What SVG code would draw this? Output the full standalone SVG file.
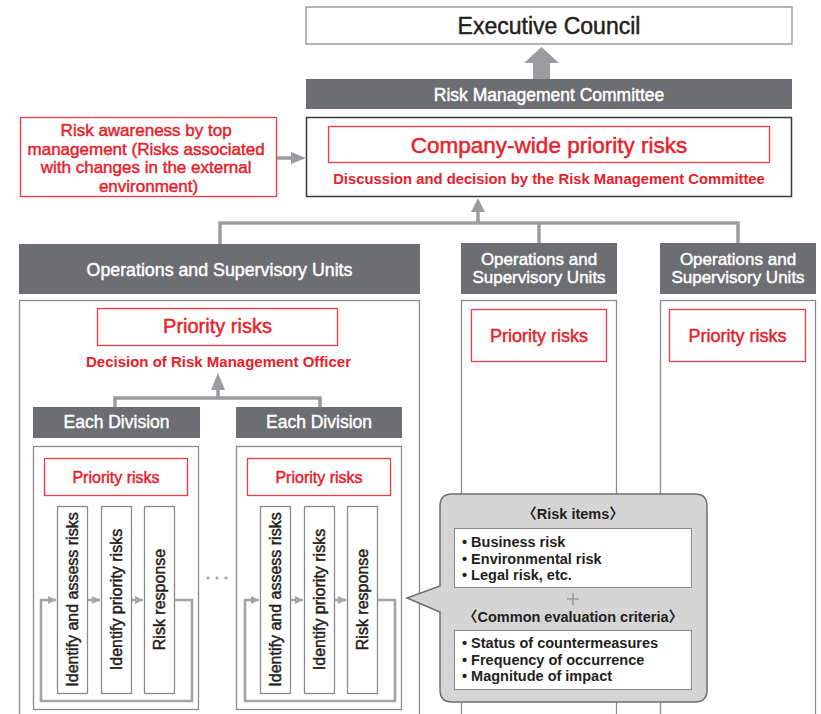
<svg xmlns="http://www.w3.org/2000/svg" width="821" height="714" viewBox="0 0 821 714">
<defs>
<style>
text{font-family:"Liberation Sans",Arial,"Noto Sans CJK JP",sans-serif;}
.red{fill:#e8202a;}
.wt{fill:#ffffff;}
.dk{fill:#231f20;}
.med{stroke-width:0.45;stroke-linejoin:round;}
.red.med{stroke:#e8202a;}
.wt.med{stroke:#ffffff;}
.dk.med{stroke:#231f20;}
.bar{fill:#6d6e71;}
.redbox{fill:#fff;stroke:#ec3a44;stroke-width:1.3;}
.gbox{fill:#fff;stroke:#8a8a8c;stroke-width:1.3;}
.conn{fill:none;stroke:#9b9c9f;stroke-width:3.5;}
.loop{fill:none;stroke:#a3a4a6;stroke-width:2.6;}
.head{fill:#9b9c9f;}
.mid{text-anchor:middle;}
.b{font-weight:bold;}
</style>
<marker id="ah" viewBox="0 0 8 8" refX="8" refY="4" markerWidth="8" markerHeight="8" markerUnits="userSpaceOnUse" orient="auto">
<path d="M0,0 L8,4 L0,8 Z" fill="#a3a4a6"/>
</marker>
</defs>
<rect width="821" height="714" fill="#fff"/>

<g id="executive-council">
<rect x="306" y="7" width="486" height="37" fill="#fff" stroke="#9b9c9f" stroke-width="1.5"/>
<text x="549" y="34" class="dk med mid" font-size="23">Executive Council</text>
</g>

<g id="risk-management-committee">
<rect x="306" y="79" width="486" height="30" class="bar"/>
<text x="549" y="101" class="wt med mid" font-size="17.5">Risk Management Committee</text>
</g>

<g id="company-wide">
<rect x="306.5" y="117.5" width="485" height="79" fill="#fff" stroke="#3a3a3c" stroke-width="1.5"/>
<rect x="328.5" y="126.5" width="441" height="36" class="redbox"/>
<text x="549" y="153" class="red med mid" font-size="22.5">Company-wide priority risks</text>
<text x="549" y="184" class="red mid b" font-size="14.8">Discussion and decision by the Risk Management Committee</text>
</g>

<g id="top-management-awareness">
<rect x="20.5" y="117.5" width="256" height="79" class="redbox"/>
<text class="red med mid" font-size="17">
<tspan x="148.5" y="136">Risk awareness by top</tspan>
<tspan x="148.5" y="154.5">management (Risks associated</tspan>
<tspan x="148.5" y="173">with changes in the external</tspan>
<tspan x="148.5" y="191.5">environment)</tspan>
</text>
</g>

<g id="unit-left">
<rect x="19" y="244" width="401" height="50" class="bar"/>
<text x="219.5" y="276" class="wt med mid" font-size="17.8">Operations and Supervisory Units</text>
<rect x="19.5" y="300.5" width="400" height="430" class="gbox"/>
<rect x="97.5" y="308.5" width="240" height="37" class="redbox"/>
<text x="217.5" y="333" class="red med mid" font-size="20">Priority risks</text>
<text x="218.5" y="367" class="red mid b" font-size="15">Decision of Risk Management Officer</text>
</g>

<g id="unit-middle">
<rect x="461" y="243" width="156" height="51" class="bar"/>
<text x="539" y="264.5" class="wt med mid" font-size="17">Operations and</text>
<text x="539" y="283" class="wt med mid" font-size="17">Supervisory Units</text>
<rect x="461.5" y="300.5" width="155" height="430" class="gbox"/>
<rect x="471.5" y="309.5" width="135" height="52" class="redbox"/>
<text x="539" y="342" class="red med mid" font-size="18">Priority risks</text>
</g>

<g id="unit-right">
<rect x="660" y="243" width="156" height="51" class="bar"/>
<text x="738" y="264.5" class="wt med mid" font-size="17">Operations and</text>
<text x="738" y="283" class="wt med mid" font-size="17">Supervisory Units</text>
<rect x="660.5" y="300.5" width="155" height="430" class="gbox"/>
<rect x="669.5" y="309.5" width="136" height="52" class="redbox"/>
<text x="737.5" y="342" class="red med mid" font-size="18">Priority risks</text>
</g>

<g id="division-1">
<rect x="33" y="407" width="167" height="31" class="bar"/>
<text x="116.5" y="428" class="wt med mid" font-size="17.5">Each Division</text>
<rect x="33.5" y="446.5" width="165" height="263" class="gbox"/>
<rect x="44.5" y="458.5" width="143" height="37" class="redbox"/>
<text x="116" y="483" class="red med mid" font-size="16">Priority risks</text>
<rect x="57.5" y="506.5" width="30" height="187" class="gbox"/>
<rect x="101.5" y="506.5" width="30" height="187" class="gbox"/>
<rect x="144.5" y="506.5" width="30" height="187" class="gbox"/>
<text transform="translate(78,599.5) rotate(-90)" class="dk med mid" font-size="16">Identify and assess risks</text>
<text transform="translate(122,599.5) rotate(-90)" class="dk med mid" font-size="16">Identify priority risks</text>
<text transform="translate(165,599.5) rotate(-90)" class="dk med mid" font-size="16">Risk response</text>
</g>

<g id="division-2">
<rect x="236" y="407" width="166" height="31" class="bar"/>
<text x="319" y="428" class="wt med mid" font-size="17.5">Each Division</text>
<rect x="236.5" y="446.5" width="165" height="263" class="gbox"/>
<rect x="247.5" y="458.5" width="143" height="37" class="redbox"/>
<text x="319" y="483" class="red med mid" font-size="16">Priority risks</text>
<rect x="260.5" y="506.5" width="30" height="187" class="gbox"/>
<rect x="304.5" y="506.5" width="30" height="187" class="gbox"/>
<rect x="347.5" y="506.5" width="30" height="187" class="gbox"/>
<text transform="translate(281,599.5) rotate(-90)" class="dk med mid" font-size="16">Identify and assess risks</text>
<text transform="translate(325,599.5) rotate(-90)" class="dk med mid" font-size="16">Identify priority risks</text>
<text transform="translate(368,599.5) rotate(-90)" class="dk med mid" font-size="16">Risk response</text>
</g>

<g id="ellipsis">
<circle cx="208" cy="578" r="1.6" fill="#a3a4a6"/>
<circle cx="217" cy="578" r="1.6" fill="#a3a4a6"/>
<circle cx="226" cy="578" r="1.6" fill="#a3a4a6"/>
</g>

<g id="callout">
<path d="M452,494 H695 Q707,494 707,506 V690 Q707,702 695,702 H452 Q440,702 440,690 V612 L407,598 L440,586 V506 Q440,494 452,494 Z" fill="#d5d5d6" stroke="#6d6e71" stroke-width="1.5"/>
<text x="573" y="519" class="dk mid b" font-size="14.5">〈Risk items〉</text>
<rect x="454.5" y="528.5" width="237" height="59" fill="#fff" stroke="#8a8a8c" stroke-width="1"/>
<text class="dk b" font-size="14.5">
<tspan x="462" y="547">• Business risk</tspan>
<tspan x="462" y="563.5">• Environmental risk</tspan>
<tspan x="462" y="580">• Legal risk, etc.</tspan>
</text>
<path d="M567,599 H579 M573,593 V605" stroke="#9b9c9f" stroke-width="1.6" fill="none"/>
<text x="573" y="622" class="dk mid b" font-size="14.5">〈Common evaluation criteria〉</text>
<rect x="454.5" y="630.5" width="237" height="59" fill="#fff" stroke="#8a8a8c" stroke-width="1"/>
<text class="dk b" font-size="14.5">
<tspan x="462" y="648">• Status of countermeasures</tspan>
<tspan x="462" y="664.5">• Frequency of occurrence</tspan>
<tspan x="462" y="681">• Magnitude of impact</tspan>
</text>
</g>

<g id="connectors">
<polygon points="533,79 533,63 524,63 541.5,47 559,63 550,63 550,79" fill="#9b9c9f"/>
<line x1="277" y1="158" x2="292" y2="158" class="conn"/>
<polygon points="291,152 306,158 291,164" class="head"/>
<path d="M220,244 V223 H738 V243 M539,223 V243 M478,223 V211" class="conn"/>
<polygon points="471,212 478,198 485,212" class="head"/>
<path d="M115,407 V398 H320 V407 M218,398 V389" class="conn"/>
<polygon points="211,390 218,373 225,390" class="head"/>
<path d="M175,600 H192 V701 H41 V600 H56" class="loop" marker-end="url(#ah)"/>
<line x1="88" y1="600" x2="100" y2="600" class="loop" marker-end="url(#ah)"/>
<line x1="132" y1="600" x2="143" y2="600" class="loop" marker-end="url(#ah)"/>
<path d="M378,600 H395 V701 H245 V600 H259" class="loop" marker-end="url(#ah)"/>
<line x1="291" y1="600" x2="303" y2="600" class="loop" marker-end="url(#ah)"/>
<line x1="335" y1="600" x2="346" y2="600" class="loop" marker-end="url(#ah)"/>
</g>
</svg>
